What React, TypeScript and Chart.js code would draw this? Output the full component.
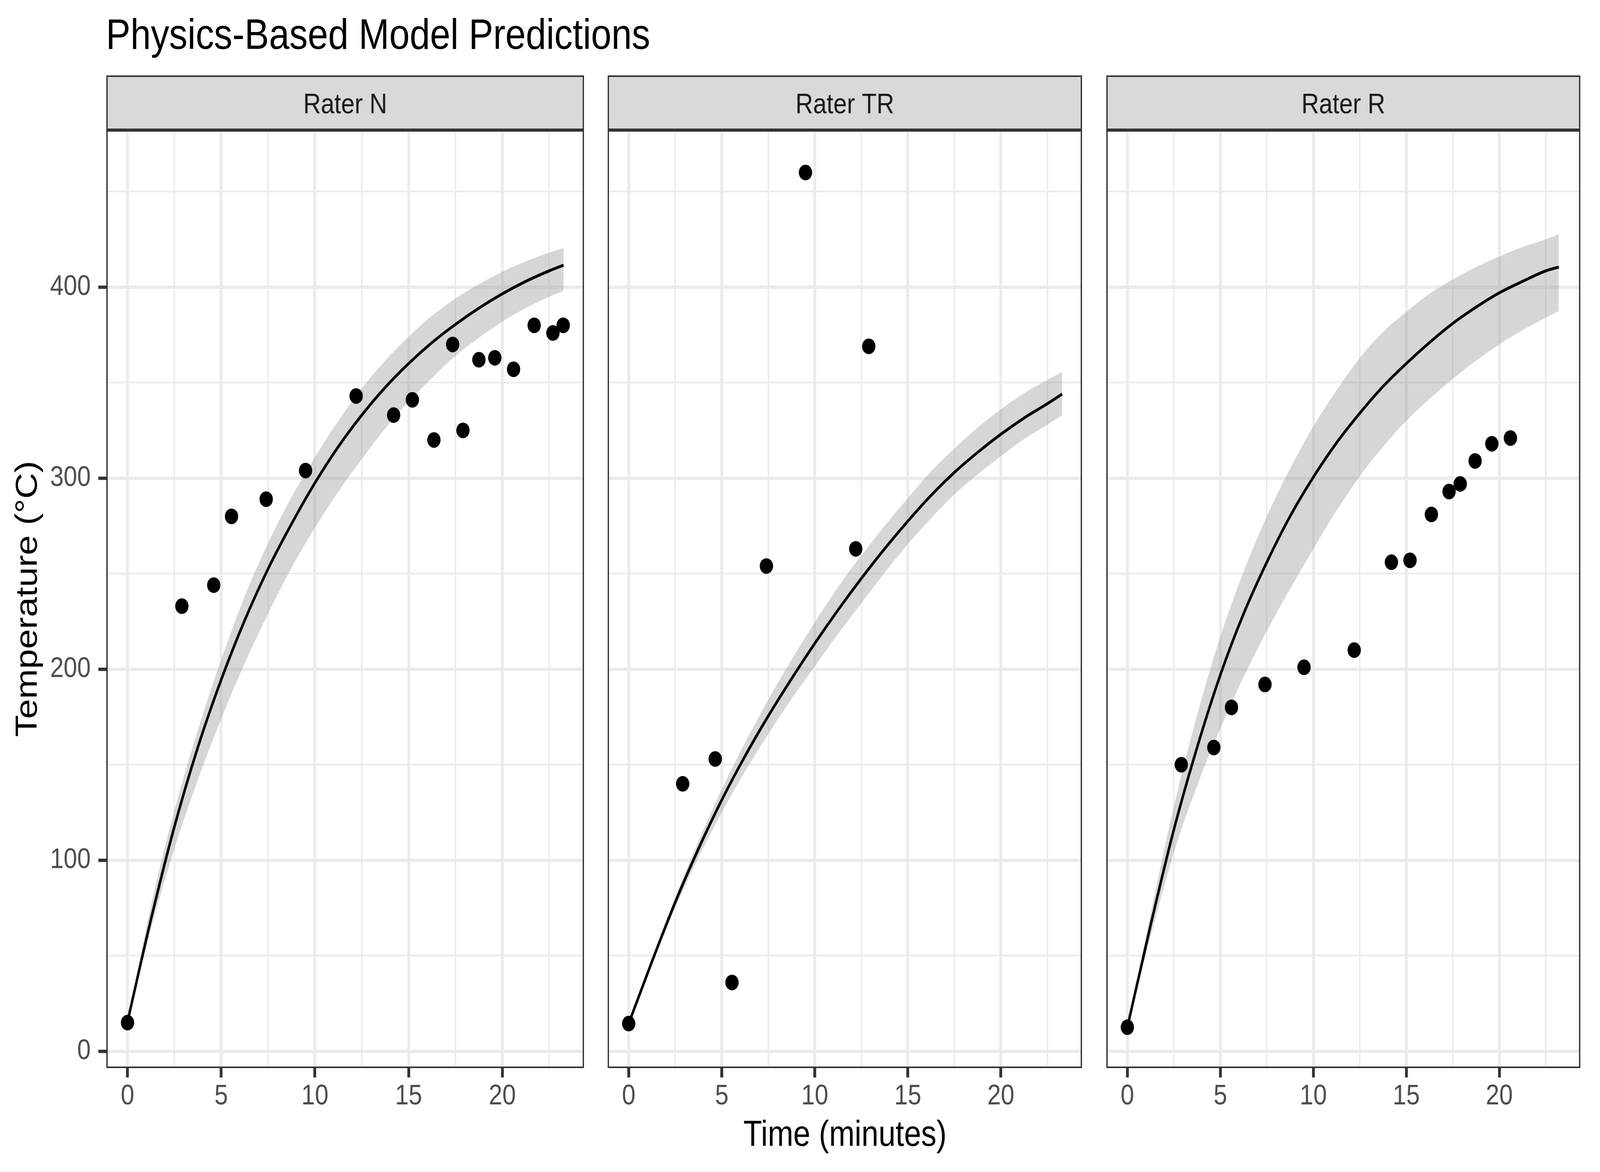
import React, { useEffect, useRef } from 'react';
import { Chart, registerables } from 'chart.js';

Chart.register(...registerables);

const FONT = '"Liberation Sans", Arial, Helvetica, sans-serif';

// ---- text ----
const chartTitle = 'Physics-Based Model Predictions';
const xAxisTitle = 'Time (minutes)';
const yAxisTitle = 'Temperature (°C)';
const panelLabels = ['Rater N', 'Rater TR', 'Rater R'];

// ---- ticks ----
const xTickValues = [0, 2.5, 5, 7.5, 10, 12.5, 15, 17.5, 20, 22.5];
const yTickValues = [0, 50, 100, 150, 200, 250, 300, 350, 400, 450];
const xRange = [-1.13, 24.36];
const yRange = [-8.8, 482.2];

// ---- Rater N ----
const timeN = [0, 2.9, 4.6, 5.55, 7.4, 9.5, 12.2, 14.2, 15.2, 16.35, 17.35, 17.9, 18.75, 19.6, 20.6, 21.7, 22.7, 23.25];
const tempN = [15, 233, 244, 280, 289, 304, 343, 333, 341, 320, 370, 325, 362, 363, 357, 380, 376, 380];
const fitTimeN = [0, 1.25, 2.5, 3.75, 5, 6.25, 7.5, 8.75, 10, 11.25, 12.5, 13.75, 15, 16.25, 17.5, 18.75, 20, 21.25, 22.5, 23.27];
const fitN = [15.5, 69, 117.5, 159, 194.5, 225.5, 252.5, 276, 297.5, 316.5, 333, 347.5, 360, 371, 380.5, 389, 396.5, 403, 408.5, 411.5];
const upperN = [15.5, 76, 126, 168, 205, 238, 266, 290, 311, 330, 347, 361.5, 374, 385, 394, 401.5, 408, 413.5, 418, 420.5];
const lowerN = [15.5, 64, 106, 142, 174, 203, 229, 253, 274, 293, 310, 326, 340, 352.5, 364, 373.5, 382, 389, 395, 398];

// ---- Rater TR ----
const timeTR = [0, 2.9, 4.65, 5.55, 7.4, 9.5, 12.2, 12.9];
const tempTR = [14.5, 140, 153, 36, 254, 460, 263, 369];
const fitTimeTR = [0, 1.25, 2.5, 3.75, 5, 6.25, 7.5, 8.75, 10, 11.25, 12.5, 13.75, 15, 16.25, 17.5, 18.75, 20, 21.25, 22.5, 23.29];
const fitTR = [14.5, 47, 78, 106, 131.5, 154.5, 175.5, 195, 213.5, 231, 247.5, 263, 277.5, 291, 303, 313.5, 323, 331.5, 339, 344];
const upperTR = [14.5, 48.5, 80.5, 110, 137, 161.5, 184, 205, 224.5, 243, 259.5, 275, 289.5, 303.5, 315.5, 326.5, 336, 344.5, 351.5, 355.5];
const lowerTR = [14.5, 45.5, 75, 101.5, 125, 146.5, 166, 184.5, 201.5, 218.5, 234.5, 250.5, 265.5, 279, 291.5, 302, 311.5, 320.5, 328, 333];

// ---- Rater R ----
const timeR = [0, 2.9, 4.65, 5.6, 7.4, 9.5, 12.2, 14.2, 15.2, 16.35, 17.3, 17.9, 18.7, 19.6, 20.6];
const tempR = [12.6, 150, 159, 180, 192, 201, 210, 256, 257, 281, 293, 297, 309, 318, 321];
const fitTimeR = [0, 1.25, 2.5, 3.75, 5, 6.25, 7.5, 8.75, 10, 11.25, 12.5, 13.75, 15, 16.25, 17.5, 18.75, 20, 21.25, 22.5, 23.2];
const fitR = [12.6, 66, 116, 159, 197, 229, 256, 280, 300.5, 318.5, 334, 348, 360, 371, 381, 389.5, 397, 403, 408.5, 410.5];
const upperR = [12.6, 72, 128, 176, 217, 251, 280, 305, 327, 346, 363, 376.5, 387, 396.5, 404, 410.5, 416, 421, 425, 427.7];
const lowerR = [12.6, 60, 104, 139, 169, 196, 220, 242, 263, 283, 301, 316.5, 330, 341.5, 352, 361.5, 370, 377.5, 384, 387.5];

type PanelData = {
  label: string;
  time: number[];
  temp: number[];
  fitTime: number[];
  fit: number[];
  upper: number[];
  lower: number[];
};

const panels: PanelData[] = [
  { label: panelLabels[0], time: timeN, temp: tempN, fitTime: fitTimeN, fit: fitN, upper: upperN, lower: lowerN },
  { label: panelLabels[1], time: timeTR, temp: tempTR, fitTime: fitTimeTR, fit: fitTR, upper: upperTR, lower: lowerTR },
  { label: panelLabels[2], time: timeR, temp: tempR, fitTime: fitTimeR, fit: fitR, upper: upperR, lower: lowerR },
];

// layout (pixels, in a 4800 x 3000 design space)
const DESIGN_W = 4800;
const DESIGN_H = 3000;
const PANEL_LEFTS = [319, 1813, 3309];
const PANEL_RIGHTS = [1762, 3256, 4751];
const CANVAS_TOP = 180;
const PANEL_TOP = 333;
const PANEL_BOTTOM = 2734;
const CANVAS_BOTTOM = 2860;
const Y_AXIS_CANVAS_LEFT = 150;
const STRIP_H = 140;

const zip = (xs: number[], ys: number[]) => xs.map((x, i) => ({ x, y: ys[i] }));

function Panel({ data, index }: { data: PanelData; index: number }) {
  const ref = useRef<HTMLCanvasElement | null>(null);
  const showY = index === 0;
  const canvasLeft = showY ? Y_AXIS_CANVAS_LEFT : PANEL_LEFTS[index] - 10;
  const canvasWidth = PANEL_RIGHTS[index] + 10 - canvasLeft;
  const canvasHeight = CANVAS_BOTTOM - CANVAS_TOP;
  const yAxisWidth = showY ? PANEL_LEFTS[0] - Y_AXIS_CANVAS_LEFT : 0;

  useEffect(() => {
    if (!ref.current) return;
    const stripPlugin = {
      id: 'facetStrip' + index,
      afterDraw(chart: any) {
        const { ctx, chartArea: a } = chart;
        const w = a.right - a.left;
        ctx.save();
        ctx.fillStyle = '#D9D9D9';
        ctx.fillRect(a.left, a.top - STRIP_H, w, STRIP_H);
        ctx.strokeStyle = '#333333';
        ctx.lineWidth = 4;
        ctx.strokeRect(a.left + 2, a.top - STRIP_H + 2, w - 4, STRIP_H - 4);
        ctx.strokeRect(a.left + 2, a.top + 2, w - 4, a.bottom - a.top - 4);
        ctx.fillStyle = '#1A1A1A';
        ctx.font = `73px ${FONT}`;
        ctx.textAlign = 'center';
        ctx.textBaseline = 'alphabetic';
        ctx.fillText(data.label, (a.left + a.right) / 2, a.top - 43);
        ctx.restore();
      },
    };

    const chart = new Chart(ref.current, {
      type: 'scatter',
      data: {
        datasets: [
          {
            label: 'observed',
            data: zip(data.time, data.temp),
            showLine: false,
            pointRadius: 20,
            pointHoverRadius: 20,
            pointBackgroundColor: '#000000',
            pointBorderColor: '#000000',
            pointBorderWidth: 0,
            order: 0,
          },
          {
            label: 'fit',
            data: zip(data.fitTime, data.fit),
            showLine: true,
            borderColor: '#000000',
            borderWidth: 7.5,
            pointRadius: 0,
            cubicInterpolationMode: 'monotone',
            fill: false,
            order: 1,
          },
          {
            label: 'upper',
            data: zip(data.fitTime, data.upper),
            showLine: true,
            borderColor: 'rgba(0,0,0,0)',
            borderWidth: 0,
            pointRadius: 0,
            cubicInterpolationMode: 'monotone',
            backgroundColor: 'rgba(153,153,153,0.4)',
            fill: '+1',
            order: 2,
          },
          {
            label: 'lower',
            data: zip(data.fitTime, data.lower),
            showLine: true,
            borderColor: 'rgba(0,0,0,0)',
            borderWidth: 0,
            pointRadius: 0,
            cubicInterpolationMode: 'monotone',
            fill: false,
            order: 3,
          },
        ] as any,
      },
      options: {
        responsive: false,
        maintainAspectRatio: false,
        animation: false,
        devicePixelRatio: 1,
        events: [],
        layout: {
          padding: { left: showY ? 0 : 10, right: 10, top: PANEL_TOP - CANVAS_TOP, bottom: 0 },
        },
        plugins: {
          legend: { display: false },
          tooltip: { enabled: false },
          title: { display: false },
        },
        scales: {
          x: {
            type: 'linear',
            position: 'bottom',
            min: xRange[0],
            max: xRange[1],
            afterBuildTicks: (s: any) => {
              s.ticks = xTickValues.map((v) => ({ value: v }));
            },
            afterFit: (s: any) => {
              s.height = CANVAS_BOTTOM - PANEL_BOTTOM;
            },
            ticks: {
              autoSkip: false,
              maxRotation: 0,
              minRotation: 0,
              padding: 5,
              color: '#4D4D4D',
              font: { family: FONT, size: 73 },
              callback: (v: any) => (Number(v) % 5 === 0 ? String(v) : ''),
            },
            grid: {
              color: '#EBEBEB',
              lineWidth: (c: any) => (c.tick && c.tick.value % 5 === 0 ? 8.5 : 4.3),
              drawTicks: true,
              tickLength: 24,
              tickWidth: 8.5,
              tickColor: (c: any) => (c.tick && c.tick.value % 5 === 0 ? '#333333' : 'rgba(0,0,0,0)'),
            },
            border: { display: false },
          },
          y: {
            type: 'linear',
            position: 'left',
            min: yRange[0],
            max: yRange[1],
            afterBuildTicks: (s: any) => {
              s.ticks = yTickValues.map((v) => ({ value: v }));
            },
            afterFit: (s: any) => {
              s.width = yAxisWidth;
            },
            ticks: {
              display: showY,
              autoSkip: false,
              padding: 23,
              color: '#4D4D4D',
              font: { family: FONT, size: 73 },
              callback: (v: any) => (Number(v) % 100 === 0 ? String(v) : ''),
            },
            grid: {
              color: '#EBEBEB',
              lineWidth: (c: any) => (c.tick && c.tick.value % 100 === 0 ? 8.5 : 4.3),
              drawTicks: showY,
              tickLength: 24,
              tickWidth: 8.5,
              tickColor: (c: any) => (c.tick && c.tick.value % 100 === 0 ? '#333333' : 'rgba(0,0,0,0)'),
            },
            border: { display: false },
          },
        },
      } as any,
      plugins: [stripPlugin],
    });
    return () => chart.destroy();
  }, []);

  return (
    <canvas
      ref={ref}
      width={canvasWidth}
      height={canvasHeight}
      style={{
        position: 'absolute',
        left: canvasLeft,
        top: CANVAS_TOP,
        width: canvasWidth,
        height: canvasHeight,
      }}
    />
  );
}

export default function App() {
  const vw = typeof window !== 'undefined' && window.innerWidth ? window.innerWidth : DESIGN_W;
  const vh = typeof window !== 'undefined' && window.innerHeight ? window.innerHeight : DESIGN_H;
  const sx = vw / DESIGN_W;
  const sy = vh / DESIGN_H;
  return (
    <div
      style={{
        position: 'absolute',
        left: 0,
        top: 0,
        width: vw,
        height: vh,
        overflow: 'hidden',
        background: '#ffffff',
      }}
    >
      <div
        style={{
          position: 'absolute',
          left: 0,
          top: 0,
          width: DESIGN_W,
          height: DESIGN_H,
          background: '#ffffff',
          overflow: 'hidden',
          fontFamily: FONT,
          transform: `scale(${sx}, ${sy})`,
          transformOrigin: '0 0',
        }}
      >
        <div
          style={{
            position: 'absolute',
            left: 318,
            top: 32,
            fontSize: 110,
            lineHeight: '110px',
            color: '#000000',
            whiteSpace: 'nowrap',
          }}
        >
          {chartTitle}
        </div>
        {panels.map((p, i) => (
          <Panel key={p.label} data={p} index={i} />
        ))}
        <div
          style={{
            position: 'absolute',
            left: 1535,
            width: 2000,
            top: 2855,
            fontSize: 92,
            lineHeight: '92px',
            textAlign: 'center',
            color: '#000000',
            whiteSpace: 'nowrap',
          }}
        >
          {xAxisTitle}
        </div>
        <div
          style={{
            position: 'absolute',
            left: 78 - 500,
            width: 1000,
            top: 1533 - 46,
            height: 92,
            fontSize: 92,
            lineHeight: '92px',
            textAlign: 'center',
            color: '#000000',
            whiteSpace: 'nowrap',
            transform: 'rotate(-90deg)',
          }}
        >
          {yAxisTitle}
        </div>
      </div>
    </div>
  );
}
